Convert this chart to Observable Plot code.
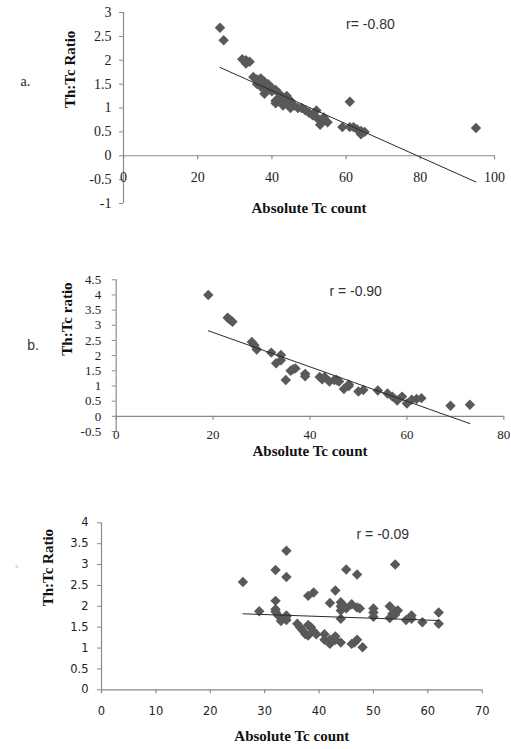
<!DOCTYPE html>
<html><head><meta charset="utf-8">
<script src="https://cdn.jsdelivr.net/npm/d3@7"></script>
<script src="https://cdn.jsdelivr.net/npm/@observablehq/plot@0.6"></script>
<style>
body{margin:0;background:#fff}
#wrap{position:relative;width:511px;height:749px;overflow:hidden;background:#fff}
#wrap svg{position:absolute;left:0;overflow:visible}
</style>
</head><body><div id="wrap"></div>
<script>
// ---- Panel a ----
const pointsA = [[26,2.68],[27,2.42],[32,2.02],[33,2.0],[33,1.93],[34,1.97],[35,1.65],[36,1.6],[36,1.5],[37,1.45],[37,1.62],[38,1.55],[38,1.38],[38,1.3],[39,1.5],[39,1.4],[40,1.35],[40,1.42],[41,1.38],[41,1.15],[41,1.1],[42,1.3],[42,1.2],[43,1.15],[43,1.05],[44,1.25],[44,1.1],[45,1.0],[45,1.15],[46,1.05],[47,1.0],[48,1.0],[49,0.95],[50,0.9],[51,0.85],[52,0.8],[52,0.95],[53,0.75],[53,0.65],[54,0.8],[55,0.7],[59,0.6],[61,0.6],[61,1.13],[62,0.6],[63,0.55],[64,0.45],[64,0.52],[65,0.5],[95,0.58]];
const trendA = [[26,1.85],[95,-0.55]];
const xTicksA = [0,20,40,60,80,100];
const yTicksA = [-1,-0.5,0,0.5,1,1.5,2,2.5,3];
const rTextA = "r= -0.80";
const labelA = "a.";
const yTitleA = "Th:Tc Ratio";

// ---- Panel b ----
const pointsB = [[19,4.0],[23,3.25],[23.5,3.18],[24,3.12],[28,2.45],[28.5,2.35],[29,2.2],[32,2.1],[33,1.75],[34,1.85],[34,2.02],[35,1.2],[36,1.5],[36.5,1.55],[37,1.58],[39,1.4],[39,1.32],[42,1.3],[42.5,1.22],[43,1.3],[44,1.15],[45,1.2],[45.5,1.2],[46,1.15],[47,0.9],[48,1.05],[48,1.0],[50,0.82],[51,0.87],[54,0.85],[56,0.75],[57,0.65],[58,0.52],[59,0.65],[60,0.42],[61,0.55],[62,0.57],[63,0.6],[69,0.35],[73,0.38]];
const trendB = [[19,2.82],[73,-0.24]];
const xTicksB = [0,20,40,60,80];
const yTicksB = [-0.5,0,0.5,1,1.5,2,2.5,3,3.5,4,4.5];
const rTextB = "r = -0.90";
const labelB = "b.";
const yTitleB = "Th:Tc ratio";

// ---- Panel c ----
const pointsC = [[26,2.58],[29,1.88],[32,2.87],[32,2.13],[32,1.93],[32,1.87],[32.5,1.78],[33,1.65],[34,3.33],[34,2.7],[34,1.75],[34,1.78],[34,1.67],[36,1.58],[36.5,1.5],[37,1.42],[37.5,1.33],[38,1.55],[38,1.3],[38.5,1.5],[38,2.25],[39,2.33],[39,1.4],[39.5,1.33],[41,1.33],[41,1.2],[42,1.2],[42,1.1],[42,2.08],[43,2.38],[43,1.28],[43,1.2],[44,1.13],[44,2.1],[44,2.0],[44,1.9],[44,1.7],[44.5,2.02],[45,2.88],[45,1.95],[46,2.05],[46,1.1],[46.5,1.13],[47,1.97],[47,2.76],[47,1.2],[47.5,1.95],[48,1.02],[50,1.95],[50,1.85],[50,1.75],[53,2.0],[53,1.72],[53.5,1.82],[54,3.0],[54,1.88],[54,1.8],[54.5,1.9],[56,1.67],[57,1.78],[57,1.7],[59,1.62],[62,1.85],[62,1.58]];
const trendC = [[26,1.82],[62,1.66]];
const xTicksC = [0,10,20,30,40,50,60,70];
const yTicksC = [0,0.5,1,1.5,2,2.5,3,3.5,4];
const rTextC = "r = -0.09";
const labelC = "c.";
const yTitleC = "Th:Tc Ratio";

const xTitle = "Absolute Tc count";

const AXIS = "#8a8a8a";
const MARK = "#595959";

function panel(cfg) {
  const frameH = cfg.height - cfg.mt - cfg.mb;
  const pxPerY = frameH / (cfg.yDomain[1] - cfg.yDomain[0]);
  const tickLen = 4 / pxPerY;
  const fmt = d => String(d);
  const svg = Plot.plot({
    width: 511, height: cfg.height,
    marginLeft: cfg.ml, marginRight: cfg.mr, marginTop: cfg.mt, marginBottom: cfg.mb,
    x: {domain: cfg.xDomain, axis: null},
    y: {domain: cfg.yDomain},
    style: {fontFamily: cfg.tickFont, fontSize: cfg.tickSize + "px", color: "#222", background: "transparent", overflow: "visible"},
    marks: [
      Plot.ruleX([0], {stroke: AXIS, strokeWidth: 1.2}),
      Plot.ruleY([0], {stroke: AXIS, strokeWidth: 1.2}),
      Plot.axisY({ticks: cfg.yTicks, tickSize: 4, tickPadding: cfg.yPad, tickFormat: fmt, stroke: AXIS}),
      Plot.ruleX(cfg.xTicks, {x: d => d, y1: 0, y2: -tickLen, stroke: AXIS, strokeWidth: 1.2}),
      Plot.text(cfg.xTicks, {x: d => d, y: 0, dy: cfg.xLabDy, text: fmt}),
      Plot.dot(cfg.points, {x: d => d[0], y: d => d[1], symbol: "diamond2", r: 4.7, fill: MARK, stroke: null}),
      Plot.line(cfg.trend, {x: d => d[0], y: d => d[1], stroke: "#2a2a2a", strokeWidth: 1}),
      Plot.text([cfg.rText], {x: cfg.rPos[0], y: cfg.rPos[1], text: d => d, textAnchor: "start", fontFamily: "Liberation Sans", fontSize: 14, fill: "#333"}),
      Plot.text([cfg.label], {frameAnchor: "left", dx: cfg.labelDx, dy: cfg.labelDy, text: d => d, fontFamily: cfg.labelFont, fontSize: cfg.labelSize, fill: cfg.labelColor}),
      Plot.text([cfg.yTitle], {frameAnchor: "left", rotate: -90, dx: cfg.yTitleDx, text: d => d, fontFamily: "Liberation Serif", fontWeight: "bold", fontSize: 15, fill: "#111"}),
      Plot.text([xTitle], {frameAnchor: "bottom", dy: cfg.xTitleDy, text: d => d, fontFamily: "Liberation Serif", fontWeight: "bold", fontSize: 15, fill: "#111"})
    ]
  });
  svg.style.top = cfg.top + "px";
  return svg;
}

const wrap = document.getElementById("wrap");
wrap.appendChild(panel({
  top: 0, height: 230, ml: 123, mr: 17, mt: 12, mb: 27,
  xDomain: [0, 100], yDomain: [-1, 3], xTicks: xTicksA, yTicks: yTicksA,
  points: pointsA, trend: trendA, rText: rTextA, rPos: [60, 2.75],
  label: labelA, labelDx: -103, labelDy: -26, labelFont: "Liberation Serif", labelSize: 14, labelColor: "#222",
  yTitle: yTitleA, yTitleDx: -53, xTitleDy: 9, xLabDy: 22,
  tickFont: "Liberation Serif", tickSize: 14, yPad: 8
}));
wrap.appendChild(panel({
  top: 240, height: 220, ml: 115.7, mr: 7.7, mt: 39.3, mb: 29,
  xDomain: [0, 80], yDomain: [-0.5, 4.5], xTicks: xTicksB, yTicks: yTicksB,
  points: pointsB, trend: trendB, rText: rTextB, rPos: [44, 4.12],
  label: labelB, labelDx: -89, labelDy: -10, labelFont: "Liberation Sans", labelSize: 14, labelColor: "#333",
  yTitle: yTitleB, yTitleDx: -49, xTitleDy: 24, xLabDy: 18,
  tickFont: "Liberation Serif", tickSize: 13, yPad: 11
}));
wrap.appendChild(panel({
  top: 480, height: 269, ml: 101, mr: 29.3, mt: 42.3, mb: 59.7,
  xDomain: [0, 70], yDomain: [0, 4], xTicks: xTicksC, yTicks: yTicksC,
  points: pointsC, trend: trendC, rText: rTextC, rPos: [46.9, 3.72],
  label: labelC, labelDx: -86, labelDy: -40, labelFont: "Liberation Sans", labelSize: 5, labelColor: "#aaa",
  yTitle: yTitleC, yTitleDx: -53, xTitleDy: 51, xLabDy: 22,
  tickFont: "DejaVu Sans", tickSize: 11.5, yPad: 9
}));
</script>
</body></html>
